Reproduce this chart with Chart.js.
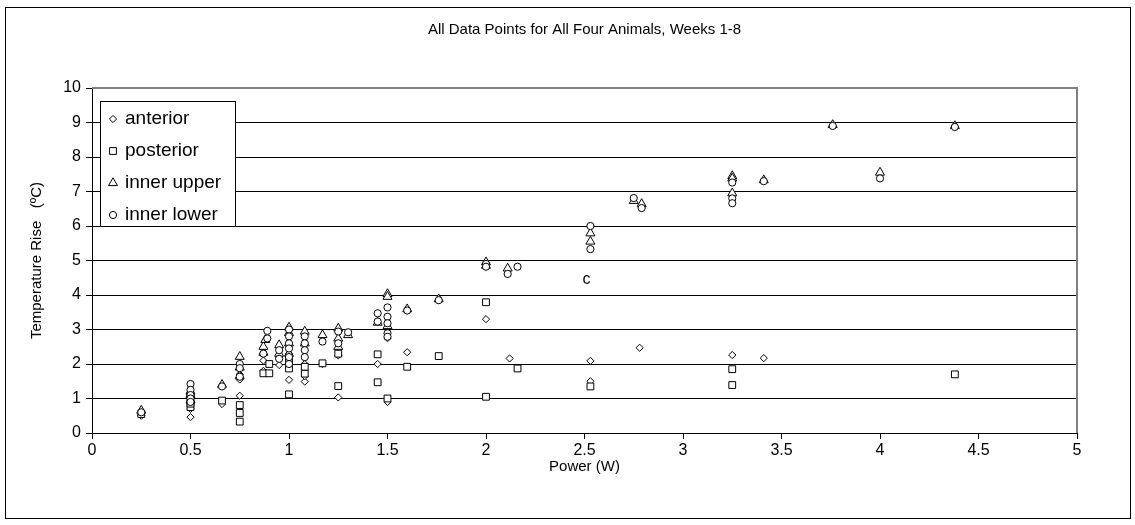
<!DOCTYPE html>
<html>
<head>
<meta charset="utf-8">
<script src="https://cdn.jsdelivr.net/npm/chart.js@4.4.1/dist/chart.umd.min.js"></script>
<style>
html, body { margin: 0; padding: 0; background: #fff; }
#wrap { position: relative; width: 1135px; height: 525px; }
</style>
</head>
<body>
<div id="wrap"><canvas id="chartSuhu" width="1135" height="525"></canvas></div>
<script>
// Data titik: [power (W), temperature rise (°C)]
const anterior = [
    [0.25, 0.5], [0.5, 0.46], [0.5, 0.7], [0.5, 0.85], [0.5, 1.0], [0.66, 0.84],
    [0.75, 1.08], [0.75, 1.55], [0.75, 1.7], [0.87, 1.8], [0.87, 2.1], [0.95, 1.97], [0.95, 2.2],
    [1.0, 1.54], [1.0, 2.0], [1.0, 2.3], [1.08, 1.49], [1.08, 1.65], [1.08, 2.0], [1.17, 2.0],
    [1.25, 1.03], [1.25, 2.25], [1.45, 2.0], [1.5, 0.9], [1.5, 2.75], [1.6, 2.34],
    [2.0, 3.3], [2.12, 2.16], [2.53, 2.09], [2.53, 1.5], [2.78, 2.47], [3.25, 2.26], [3.41, 2.17]
];
const posterior = [
    [0.25, 0.55], [0.5, 0.75], [0.5, 0.85], [0.5, 0.95], [0.5, 1.1], [0.66, 0.94],
    [0.75, 0.33], [0.75, 0.58], [0.75, 0.81], [0.87, 1.73], [0.9, 1.73], [0.9, 2.0],
    [1.0, 1.12], [1.0, 1.87], [1.0, 2.1], [1.08, 1.72], [1.08, 1.92], [1.17, 2.02],
    [1.25, 1.36], [1.25, 2.3], [1.45, 1.47], [1.45, 2.28], [1.5, 1.0], [1.6, 1.92], [1.76, 2.23],
    [2.0, 1.05], [2.0, 3.79], [2.16, 1.87], [2.53, 1.35], [3.25, 1.39], [3.25, 1.85], [4.38, 1.7]
];
const innerUpper = [
    [0.25, 0.65], [0.5, 0.95], [0.5, 1.1], [0.5, 1.2], [0.66, 1.4],
    [0.75, 1.65], [0.75, 1.9], [0.75, 2.21], [0.87, 2.33], [0.87, 2.5], [0.88, 2.7], [0.95, 2.55], [0.95, 2.3],
    [1.0, 3.06], [1.0, 2.9], [1.0, 2.6], [1.0, 2.3], [1.08, 2.94], [1.08, 2.6], [1.17, 2.84],
    [1.25, 3.03], [1.25, 2.74], [1.25, 2.5], [1.3, 2.84], [1.45, 3.2], [1.5, 4.03], [1.5, 3.95], [1.5, 3.1],
    [1.6, 3.59], [1.76, 3.88], [2.0, 4.95], [2.0, 4.85], [2.11, 4.77], [2.53, 5.79], [2.53, 5.55],
    [2.75, 6.73], [2.79, 6.64], [3.25, 7.45], [3.25, 7.38], [3.25, 6.95], [3.41, 7.33],
    [3.76, 8.93], [4.0, 7.55], [4.38, 8.9]
];
const innerLower = [
    [0.25, 0.6], [0.5, 1.42], [0.5, 1.25], [0.5, 1.1], [0.5, 1.0], [0.5, 0.9], [0.66, 1.35],
    [0.75, 2.0], [0.75, 1.88], [0.75, 1.63], [0.87, 2.3], [0.89, 2.96], [0.89, 2.74], [0.95, 2.4], [0.95, 2.15],
    [1.0, 3.0], [1.0, 2.8], [1.0, 2.6], [1.0, 2.45], [1.0, 2.2], [1.0, 2.0],
    [1.08, 2.8], [1.08, 2.6], [1.08, 2.4], [1.08, 2.2], [1.17, 2.65], [1.25, 2.94], [1.25, 2.6], [1.3, 2.92],
    [1.45, 3.47], [1.45, 3.23], [1.5, 3.64], [1.5, 3.37], [1.5, 3.18], [1.5, 2.89], [1.5, 2.79],
    [1.6, 3.55], [1.76, 3.85], [2.0, 4.9], [2.0, 4.82], [2.11, 4.61], [2.16, 4.82],
    [2.53, 6.0], [2.53, 5.33], [2.75, 6.81], [2.79, 6.52], [3.25, 7.26], [3.25, 6.8], [3.25, 6.66],
    [3.41, 7.3], [3.76, 8.9], [4.0, 7.38], [4.38, 8.87]
];

const seriesNames = ['anterior', 'posterior', 'inner upper', 'inner lower'];
const xTicks = [0, 0.5, 1, 1.5, 2, 2.5, 3, 3.5, 4, 4.5, 5];
const yTicks = [0, 1, 2, 3, 4, 5, 6, 7, 8, 9, 10];
// huruf "c" yang nyasar di dalam grafik
const strayNote = { text: 'c', x: 2.51, y: 4.45 };

const FONT = "'Liberation Sans', Arial, sans-serif";

function toPoints(arr) {
    return arr.map(p => ({ x: p[0], y: p[1] }));
}

function buatSeri(label, data, style, radius, order) {
    return {
        label: label,
        data: toPoints(data),
        showLine: false,
        pointStyle: style,
        pointRadius: radius,
        pointHoverRadius: radius,
        pointBackgroundColor: '#fff',
        pointBorderColor: '#000',
        pointBorderWidth: 1,
        order: order
    };
}

const datasets = [
    buatSeri(seriesNames[0], anterior, 'rectRot', 3.6, 4),
    buatSeri(seriesNames[1], posterior, 'rect', 4.8, 3),
    buatSeri(seriesNames[2], innerUpper, 'triangle', 5.2, 2),
    buatSeri(seriesNames[3], innerLower, 'circle', 3.6, 1)
];

// bingkai luar + garis tepi plot area
const bingkaiPlugin = {
    id: 'bingkai',
    beforeDraw(chart) {
        const ctx = chart.ctx;
        ctx.save();
        ctx.fillStyle = '#fff';
        ctx.fillRect(0, 0, chart.width, chart.height);
        ctx.strokeStyle = '#000';
        ctx.lineWidth = 1;
        ctx.strokeRect(5.5, 7.5, 1125, 511);
        ctx.restore();
    },
    afterDatasetsDraw(chart) {
        const ctx = chart.ctx;
        const a = chart.chartArea;
        ctx.save();
        ctx.strokeStyle = '#808080';
        ctx.lineWidth = 2;
        ctx.beginPath();
        ctx.moveTo(a.left, a.top);
        ctx.lineTo(a.right, a.top);
        ctx.lineTo(a.right, a.bottom);
        ctx.stroke();

        // teks "c"
        ctx.fillStyle = '#000';
        ctx.font = '16px ' + FONT;
        ctx.textAlign = 'center';
        ctx.textBaseline = 'middle';
        ctx.fillText(strayNote.text, chart.scales.x.getPixelForValue(strayNote.x), chart.scales.y.getPixelForValue(strayNote.y));

        // legenda di dalam plot
        const lx = 100, ly = 101, lw = 135, lh = 125;
        ctx.fillStyle = '#fff';
        ctx.fillRect(lx, ly, lw, lh);
        ctx.strokeStyle = '#000';
        ctx.lineWidth = 1;
        ctx.strokeRect(lx + 0.5, ly + 0.5, lw, lh);
        ctx.font = '19px ' + FONT;
        ctx.textAlign = 'left';
        chart.data.datasets.forEach((ds, i) => {
            const cy = ly + 18 + i * 32;
            ctx.fillStyle = '#fff';
            ctx.strokeStyle = '#000';
            ctx.lineWidth = 1;
            Chart.helpers.drawPoint(ctx, {
                pointStyle: ds.pointStyle,
                radius: ds.pointRadius,
                borderWidth: 1,
                rotation: 0
            }, lx + 13, cy);
            ctx.fillStyle = '#000';
            ctx.fillText(ds.label, lx + 25, cy);
        });
        ctx.restore();
    }
};

const ctx = document.getElementById('chartSuhu').getContext('2d');
const chartSuhu = new Chart(ctx, {
    type: 'scatter',
    data: { datasets: datasets },
    options: {
        responsive: false,
        animation: false,
        devicePixelRatio: 1,
        layout: { padding: { left: 0, right: 58, top: 0, bottom: 0 } },
        plugins: {
            legend: { display: false },
            tooltip: { enabled: false },
            title: {
                display: true,
                text: 'All Data Points for All Four Animals, Weeks 1-8',
                fullSize: false,
                color: '#000',
                font: { family: FONT, size: 15, weight: 'normal' },
                padding: { top: 21, bottom: 49 }
            }
        },
        scales: {
            x: {
                type: 'linear',
                min: 0,
                max: 5,
                afterBuildTicks: scale => { scale.ticks = xTicks.map(v => ({ value: v })); },
                afterFit: scale => { scale.height = 92; },
                ticks: { color: '#000', font: { family: FONT, size: 16 }, padding: 2, maxRotation: 0, callback: v => String(v) },
                grid: { drawOnChartArea: false, drawTicks: true, tickLength: 6, color: '#000' },
                border: { color: '#000', width: 1 },
                title: {
                    display: true,
                    text: 'Power (W)',
                    color: '#000',
                    font: { family: FONT, size: 15 },
                    padding: { top: 4, bottom: 49 }
                }
            },
            y: {
                type: 'linear',
                min: 0,
                max: 10,
                afterBuildTicks: scale => { scale.ticks = yTicks.map(v => ({ value: v })); },
                afterFit: scale => { scale.width = 92; },
                ticks: { color: '#000', font: { family: FONT, size: 16 }, padding: 5, callback: v => String(v) },
                grid: { color: '#000', lineWidth: 1, drawTicks: true, tickLength: 6 },
                border: { color: '#000', width: 1 },
                title: {
                    display: true,
                    text: 'Temperature Rise   (ºC)',
                    color: '#000',
                    font: { family: FONT, size: 15 },
                    padding: { top: 28, bottom: 4 }
                }
            }
        }
    },
    plugins: [bingkaiPlugin]
});
</script>
</body>
</html>
